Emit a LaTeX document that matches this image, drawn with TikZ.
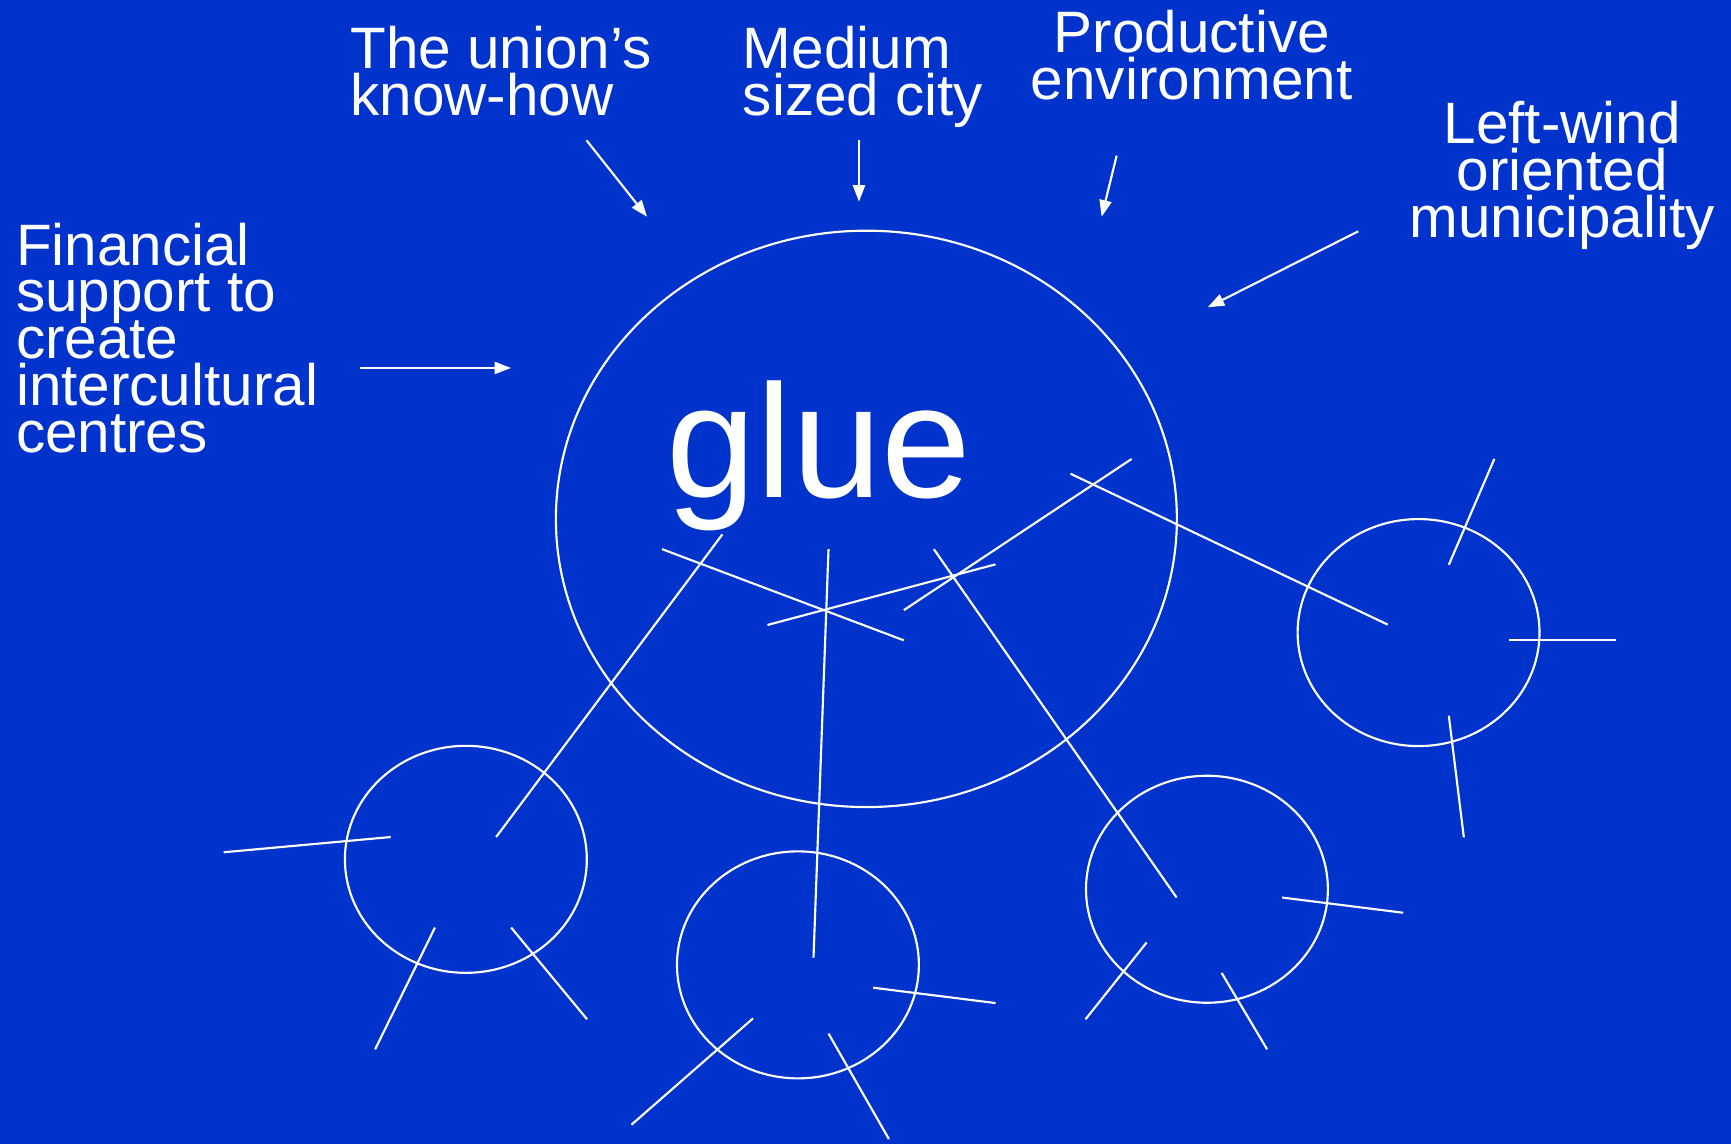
\documentclass[tikz,border=0pt]{standalone}
\usepackage{fontspec}
\setmainfont{Liberation Sans}
\usetikzlibrary{arrows.meta,shapes.geometric}
\definecolor{bg}{RGB}{0,51,204}
\begin{document}
\begin{tikzpicture}[x=0.01cm,y=-0.01cm, line width=0.55pt,
  lbl/.style={inner sep=0, text=white, font={\fontsize{15.05}{12.06}\selectfont\lineskiplimit=-50pt\lineskip=0pt}},
  arr/.style={draw=white, -{Triangle[length=0.15cm,width=0.11cm]}},
  ln/.style={draw=white},
  bigcirc/.style={draw=white, ellipse, inner sep=0, minimum width=5.622cm, minimum height=5.218cm},
  circ/.style={draw=white, ellipse, inner sep=0, minimum width=2.19cm, minimum height=2.055cm}]
\fill[bg] (0,0) rectangle (1568,1036.2);
\useasboundingbox (0,0) rectangle (1568,1036.2);
% labels (anchor = baseline of the last line)
\node[lbl, anchor=base west, align=left] (union) at (316.5,104.2) {The union’s\\know-how};
\node[lbl, anchor=base west, align=left] (medium) at (672,104.2) {Medium\\sized city};
\node[lbl, anchor=base, align=center] (prod) at (1079.5,90) {Productive\\environment};
\node[lbl, anchor=base, align=center] (left) at (1415,215) {Left-wind\\oriented\\municipality};
\node[lbl, anchor=base west, align=left] (fin) at (13.6,409.7) {Financial\\support to\\create\\intercultural\\centres};
\node[inner sep=0, text=white, font={\fontsize{41.5}{45}\selectfont}, anchor=base west] (glue) at (603,450.6) {glue};
% ellipses
\node[bigcirc] (big) at (784.8,470) {};
\node[circ] (ca) at (422,778.4) {};
\node[circ] (cb) at (722.8,874) {};
\node[circ] (cc) at (1093.3,805.5) {};
\node[circ] (cd) at (1285,573) {};
% arrows
\coordinate (u1) at (531.3,127.1); \coordinate (u2) at (586.1,196.3);
\coordinate (m1) at (778.1,127.1); \coordinate (m2) at (778.1,182.7);
\coordinate (p1) at (1011.5,141); \coordinate (p2) at (997.9,196.3);
\coordinate (l1) at (1230.4,209.5); \coordinate (l2) at (1094,278.4);
\coordinate (f1) at (325.7,333.3); \coordinate (f2) at (463,333.3);
\draw[arr] (u1) -- (u2);
\draw[arr] (m1) -- (m2);
\draw[arr] (p1) -- (p2);
\draw[arr] (l1) -- (l2);
\draw[arr] (f1) -- (f2);
% connecting lines
\draw[ln] (654.4,484) -- (449.4,758.2);
\draw[ln] (750.5,497.4) -- (736.9,867.5);
\draw[ln] (845.9,497.4) -- (1065.8,813);
\draw[ln] (969.7,429.1) -- (1257.1,565.8);
\draw[ln] (599.7,497.4) -- (818.7,580);
\draw[ln] (695.2,566.1) -- (901.8,511.2);
\draw[ln] (1025.1,415.7) -- (818.7,552.7);
% spokes A
\draw[ln] (202.6,772) -- (353.9,758.2);
\draw[ln] (394,840.2) -- (339.8,950.5);
\draw[ln] (463,840.2) -- (531.8,923.3);
% spokes B
\draw[ln] (791,894.7) -- (901.8,908.6);
\draw[ln] (682.1,922.5) -- (572,1018.8);
\draw[ln] (750.5,936.2) -- (805.2,1031.8);
% spokes C
\draw[ln] (1161.4,813) -- (1271.1,826.8);
\draw[ln] (1038.7,853.7) -- (983.3,923.3);
\draw[ln] (1106.6,881.3) -- (1147.8,950.5);
% spokes D
\draw[ln] (1353.6,415.7) -- (1312.4,511.6);
\draw[ln] (1366.8,580) -- (1463.4,580);
\draw[ln] (1312.4,648.3) -- (1326,758.5);
\end{tikzpicture}
\end{document}
